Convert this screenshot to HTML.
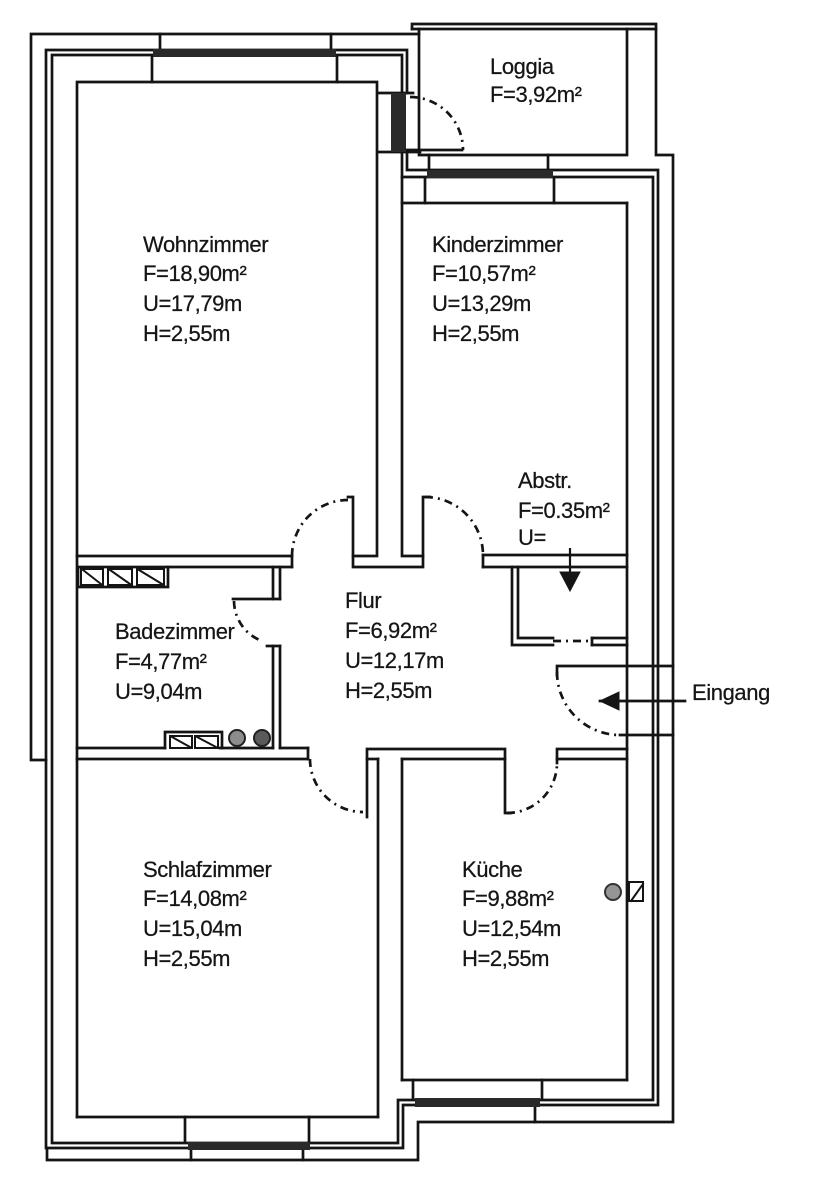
<!DOCTYPE html>
<html>
<head>
<meta charset="utf-8">
<style>
  html,body{margin:0;padding:0;background:#fff;}
  body{width:814px;height:1200px;overflow:hidden;}
  svg{display:block;}
  text{font-family:"Liberation Sans",Arial,sans-serif;font-size:22px;letter-spacing:-0.4px;fill:#151515;stroke:#151515;stroke-width:0.25;}
</style>
</head>
<body>
<svg width="814" height="1200" viewBox="0 0 814 1200" xmlns="http://www.w3.org/2000/svg">
<g fill="none" stroke="#141414" stroke-width="2.7" stroke-linecap="square" stroke-linejoin="miter">
  <!-- outermost left/top line -->
  <polyline points="46,760 31,760 31,34 419,34"/>
  <!-- loggia outer -->
  <polyline points="412,29 412,24 656,24 656,155 673,155 673,1122 418,1122 418,1160 47,1160 47,1148"/>
  <line x1="412" y1="29" x2="656" y2="29"/>
  <!-- loggia inner -->
  <polyline points="419,29 419,155 627,155 627,29"/>

  <!-- building double line: outer face -->
  <polyline points="407,93 407,50 46,50 46,1148 403,1148 403,1105 658,1105 658,170 407,170 407,152"/>
  <!-- building double line: inner face -->
  <polyline points="402,93 402,55 52,55 52,1143 398,1143 398,1100 653,1100 653,177 402,177"/>

  <!-- loggia door area -->
  <line x1="378" y1="93" x2="413" y2="93"/>
  <line x1="378" y1="152" x2="420" y2="152"/>
  <line x1="407" y1="150" x2="462" y2="150"/>

  <!-- Wohnzimmer -->
  <polyline points="292,556 77,556"/>
  <polyline points="77,1117 77,82 377,82 377,556 353,556"/>
  <line x1="292" y1="556" x2="292" y2="567"/>
  <line x1="168" y1="567" x2="292" y2="567"/>

  <!-- Kinderzimmer -->
  <polyline points="423,556 402,556 402,152"/>
  <line x1="402" y1="203" x2="627" y2="203"/>
  <line x1="627" y1="203" x2="627" y2="1080"/>
  <line x1="483" y1="555" x2="627" y2="555"/>
  <line x1="483" y1="555" x2="483" y2="567"/>
  <line x1="483" y1="567" x2="627" y2="567"/>

  <!-- middle stub between Wohn/Kinder doors -->
  <polyline points="348,497 353,497 353,567 423,567 423,497 430,497"/>

  <!-- Bath -->
  <line x1="273" y1="567" x2="273" y2="599"/>
  <line x1="280" y1="567" x2="280" y2="599"/>
  <line x1="233" y1="599" x2="280" y2="599"/>
  <line x1="267" y1="646" x2="280" y2="646"/>
  <line x1="273" y1="646" x2="273" y2="748"/>
  <line x1="280" y1="646" x2="280" y2="748"/>
  <line x1="77" y1="748" x2="165" y2="748"/>
  <line x1="220" y1="748" x2="273" y2="748"/>
  <line x1="280" y1="748" x2="308" y2="748"/>
  <line x1="308" y1="748" x2="308" y2="759"/>
  <line x1="77" y1="759" x2="308" y2="759"/>

  <!-- Schlafzimmer -->
  <line x1="367" y1="759" x2="378" y2="759"/>
  <line x1="378" y1="759" x2="378" y2="1117"/>
  <line x1="77" y1="1117" x2="378" y2="1117"/>
  <polyline points="367,817 367,749 505,749 505,813 510,813"/>

  <!-- Kueche -->
  <line x1="402" y1="759" x2="505" y2="759"/>
  <line x1="402" y1="759" x2="402" y2="1080"/>
  <line x1="402" y1="1080" x2="627" y2="1080"/>
  <polyline points="557,763 557,749 627,749"/>
  <line x1="557" y1="759" x2="627" y2="759"/>

  <!-- Abstellraum -->
  <polyline points="512,567 512,645 553,645"/>
  <polyline points="518,567 518,638 553,638"/>
  <polyline points="592,638 627,638"/>
  <polyline points="592,645 627,645"/>
  <line x1="592" y1="638" x2="592" y2="645"/>

  <!-- Entrance -->
  <polyline points="557,675 557,666 673,666"/>
  <line x1="620" y1="735" x2="673" y2="735"/>
  <line x1="600" y1="701" x2="685" y2="701"/>

  <!-- window reveals -->
  <line x1="152" y1="57" x2="152" y2="82"/>
  <line x1="337" y1="57" x2="337" y2="82"/>
  <line x1="160" y1="34" x2="160" y2="49"/>
  <line x1="331" y1="34" x2="331" y2="49"/>

  <line x1="425" y1="178" x2="425" y2="203"/>
  <line x1="554" y1="178" x2="554" y2="203"/>
  <line x1="429" y1="155" x2="429" y2="170"/>
  <line x1="548" y1="155" x2="548" y2="170"/>

  <line x1="185" y1="1117" x2="185" y2="1142"/>
  <line x1="309" y1="1117" x2="309" y2="1142"/>
  <line x1="191" y1="1150" x2="191" y2="1160"/>
  <line x1="303" y1="1150" x2="303" y2="1160"/>

  <line x1="413" y1="1080" x2="413" y2="1098"/>
  <line x1="542" y1="1080" x2="542" y2="1098"/>
  <line x1="535" y1="1107" x2="535" y2="1122"/>

  <!-- Bath radiators top -->
  <rect x="78" y="567" width="90" height="20"/>
  <rect x="81" y="569" width="22" height="16" stroke-width="2"/>
  <rect x="108" y="569" width="24" height="16" stroke-width="2"/>
  <rect x="137" y="569" width="27" height="16" stroke-width="2"/>
  <line x1="83" y1="570" x2="101" y2="584" stroke-width="2"/>
  <line x1="110" y1="570" x2="130" y2="584" stroke-width="2"/>
  <line x1="139" y1="570" x2="162" y2="584" stroke-width="2"/>

  <!-- Bath radiators bottom -->
  <polyline points="165,748 165,732 222,732 222,748"/>
  <rect x="170" y="736" width="22" height="12" stroke-width="2"/>
  <rect x="195" y="736" width="23" height="12" stroke-width="2"/>
  <line x1="172" y1="737" x2="190" y2="747" stroke-width="2"/>
  <line x1="197" y1="737" x2="216" y2="747" stroke-width="2"/>

  <!-- Kueche symbol -->
  <rect x="629" y="882" width="14" height="19" stroke-width="2"/>
  <line x1="631" y1="901" x2="643" y2="884" stroke-width="2"/>
</g>

<!-- circles -->
<circle cx="237" cy="738" r="8" fill="#8c8c8c" stroke="#222" stroke-width="2"/>
<circle cx="262" cy="738" r="8" fill="#5a5a5a" stroke="#222" stroke-width="2"/>
<circle cx="613" cy="892" r="8" fill="#959595" stroke="#333" stroke-width="2"/>

<!-- dark window bars / door -->
<g fill="#2a2a2a">
  <rect x="153" y="49" width="183" height="8"/>
  <rect x="427" y="170" width="126" height="8"/>
  <rect x="188" y="1142" width="122" height="8"/>
  <rect x="415" y="1098" width="125" height="9"/>
  <rect x="391" y="93" width="15" height="59"/>
</g>

<!-- door arcs (dash-dot) -->
<g fill="none" stroke="#141414" stroke-width="2.7" stroke-dasharray="8 5 2 5">
  <path d="M410,97 A53,53 0 0 1 463,150"/>
  <path d="M292,556 A56,56 0 0 1 348,500"/>
  <path d="M425,497 A58,58 0 0 1 483,555"/>
  <path d="M234,601 A43,43 0 0 0 262,641"/>
  <path d="M310,759 A53,53 0 0 0 363,812"/>
  <path d="M507,813 A50,50 0 0 0 557,763"/>
  <path d="M557,672 A63,63 0 0 0 620,735"/>
  <line x1="553" y1="641" x2="590" y2="641"/>
</g>

<!-- arrows -->
<g fill="#141414" stroke="#141414">
  <line x1="570" y1="548" x2="570" y2="575" stroke-width="2.2"/>
  <polygon points="560,572 580,572 570,591" stroke-width="1"/>
  <polygon points="600,701 619,692 619,710" stroke-width="1"/>
</g>

<!-- labels -->
<text x="490" y="74">Loggia</text>
<text x="490" y="102">F=3,92m²</text>

<text x="143" y="252">Wohnzimmer</text>
<text x="143" y="281">F=18,90m²</text>
<text x="143" y="311">U=17,79m</text>
<text x="143" y="341">H=2,55m</text>

<text x="432" y="252">Kinderzimmer</text>
<text x="432" y="281">F=10,57m²</text>
<text x="432" y="311">U=13,29m</text>
<text x="432" y="341">H=2,55m</text>

<text x="518" y="488">Abstr.</text>
<text x="518" y="518">F=0.35m²</text>
<text x="518" y="545">U=</text>

<text x="345" y="608">Flur</text>
<text x="345" y="638">F=6,92m²</text>
<text x="345" y="668">U=12,17m</text>
<text x="345" y="698">H=2,55m</text>

<text x="115" y="639">Badezimmer</text>
<text x="115" y="669">F=4,77m²</text>
<text x="115" y="699">U=9,04m</text>

<text x="692" y="700">Eingang</text>

<text x="143" y="877">Schlafzimmer</text>
<text x="143" y="906">F=14,08m²</text>
<text x="143" y="936">U=15,04m</text>
<text x="143" y="966">H=2,55m</text>

<text x="462" y="877">Küche</text>
<text x="462" y="906">F=9,88m²</text>
<text x="462" y="936">U=12,54m</text>
<text x="462" y="966">H=2,55m</text>
</svg>
</body>
</html>
